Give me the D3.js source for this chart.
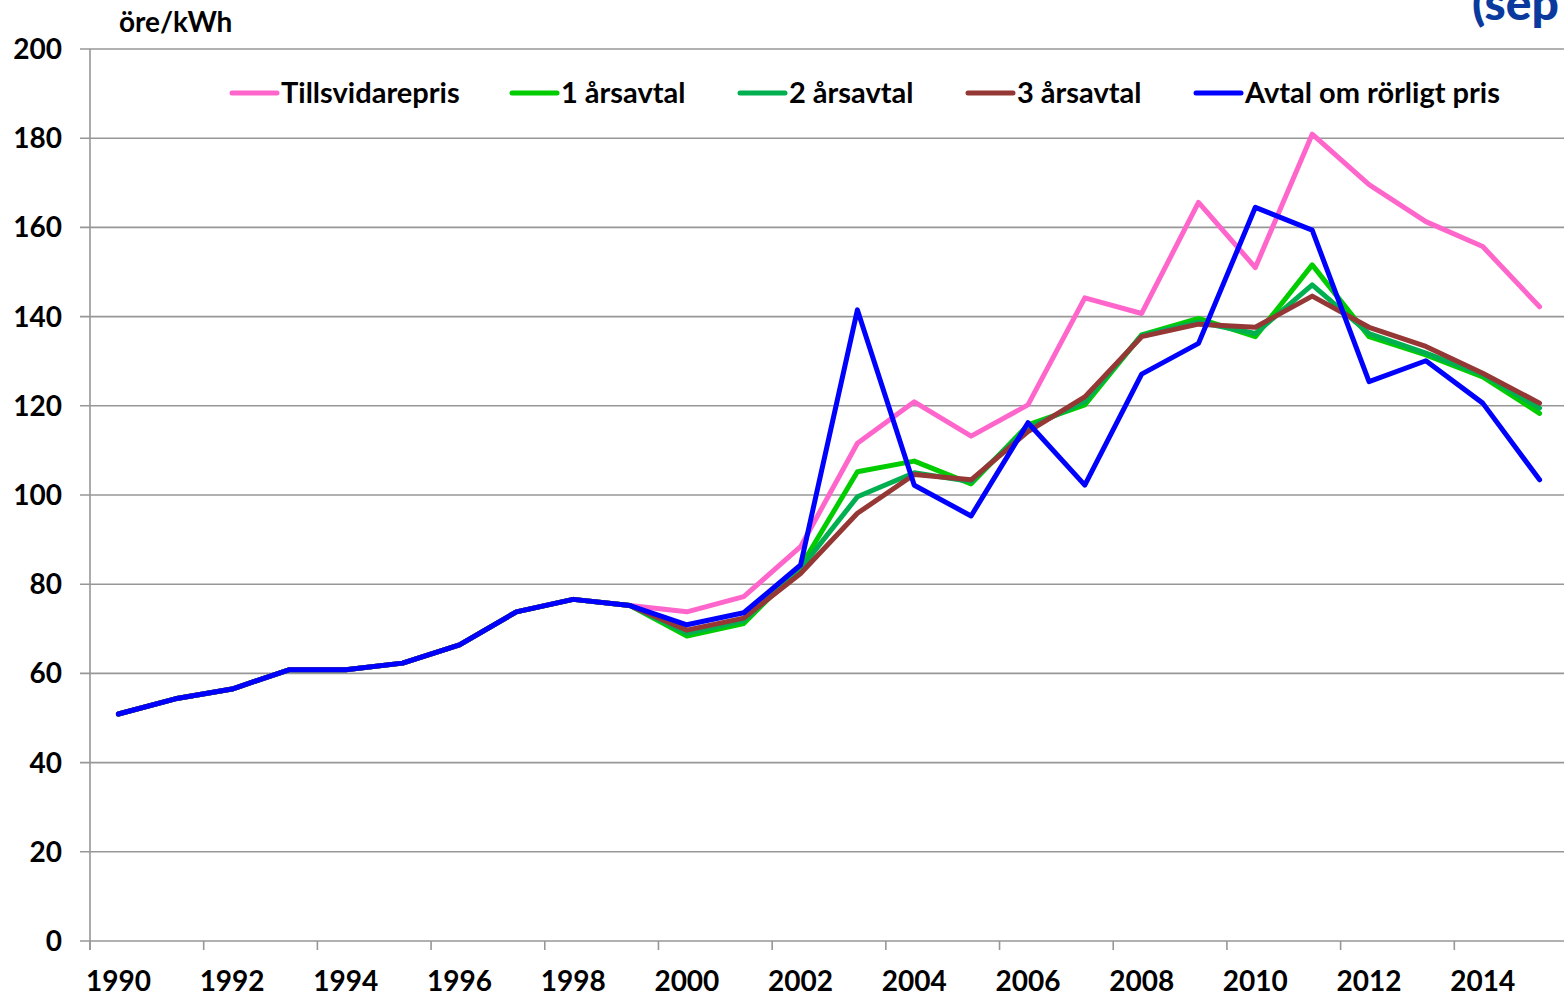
<!DOCTYPE html>
<html><head><meta charset="utf-8">
<script src="https://cdn.jsdelivr.net/npm/d3@7"></script>
<style>body{margin:0;background:#fff}svg{display:block}text{font-family:Lato,"Open Sans",sans-serif;font-weight:bold;fill:#000}</style>
</head><body>
<svg id="c" width="1564" height="996"></svg>
<script>
const years = d3.range(1990, 2016).map(String);
const yTicks = [0,20,40,60,80,100,120,140,160,180,200];
const xLabels = ["1990","1992","1994","1996","1998","2000","2002","2004","2006","2008","2010","2012","2014"];
const seriesNames = ["Tillsvidarepris","1 årsavtal","2 årsavtal","3 årsavtal","Avtal om rörligt pris"];
const base = [50.9,54.3,56.5,60.8,60.8,62.3,66.4,73.8,76.6,75.2];
const tillsvidare = base.concat([73.8,77.2,88.4,111.6,120.9,113.2,120.2,144.2,140.7,165.6,151.0,180.9,169.6,161.3,155.7,142.2]);
const ar1 = base.concat([68.4,71.2,83.9,105.2,107.6,102.5,115.7,120.2,135.9,139.6,135.5,151.6,135.5,131.4,126.5,118.3]);
const ar2 = base.concat([69.0,71.8,83.5,99.6,105.0,103.0,115.0,120.9,135.8,138.8,136.2,147.1,136.2,131.8,127.0,119.5]);
const ar3 = base.concat([69.7,72.4,82.4,95.9,104.6,103.4,114.2,122.0,135.5,138.3,137.6,144.6,137.6,133.3,127.3,120.6]);
const rorligt = base.concat([70.9,73.6,84.3,141.5,102.2,95.3,116.2,102.2,127.1,134.0,164.5,159.4,125.4,130.1,120.6,103.4]);
const seriesValues = [tillsvidare, ar1, ar2, ar3, rorligt];
const colors = ["#FF66CC","#00CC00","#00B050","#953735","#0000FF"];

const svg = d3.select("#c");
const L = 90, R = 1568, T = 49, B = 941;
const x = d3.scaleBand().domain(years).range([L, R]).padding(0);
const y = d3.scaleLinear().domain([0,200]).range([B, T]);

// gridlines
svg.append("g").selectAll("line").data(yTicks).join("line")
  .attr("x1", L-10).attr("x2", 1564)
  .attr("y1", d=>y(d)).attr("y2", d=>y(d))
  .attr("stroke", "#979797").attr("stroke-width", 1.6);
// y axis line
svg.append("line").attr("x1", L).attr("x2", L).attr("y1", T).attr("y2", B+9)
  .attr("stroke", "#979797").attr("stroke-width", 1.6);
// x ticks at boundaries every 2 years
const tickYears = years.filter((d,i)=>i%2===0);
svg.append("g").selectAll("line").data(tickYears).join("line")
  .attr("x1", d=>x(d)).attr("x2", d=>x(d)).attr("y1", B).attr("y2", B+9)
  .attr("stroke", "#979797").attr("stroke-width", 1.6);
// y labels
svg.append("g").selectAll("text").data(yTicks).join("text")
  .attr("x", 62).attr("y", d=>y(d)).attr("dy", "0.36em")
  .attr("text-anchor", "end").attr("font-size", 28).text(d=>d);
// x labels
svg.append("g").selectAll("text").data(xLabels).join("text")
  .attr("x", d=>x(d)+x.bandwidth()/2).attr("y", 991)
  .attr("text-anchor", "middle").attr("font-size", 28).text(d=>d);
// unit
svg.append("text").attr("x", 119).attr("y", 32).attr("font-size", 28).text("öre/kWh");
// top-right text (cropped by the picture edge, as in the reference)
svg.append("text").attr("x", 1472).attr("y", 20).attr("font-size", 48)
  .style("font-weight", 900).style("fill", "#0b3a9e").text("(sep");

// lines
const line = d3.line().x((d,i)=>x(years[i])+x.bandwidth()/2).y(d=>y(d));
svg.append("g").selectAll("path").data(seriesValues).join("path")
  .attr("d", d=>line(d)).attr("fill", "none")
  .attr("stroke", (d,i)=>colors[i]).attr("stroke-width", 5)
  .attr("stroke-linejoin", "round").attr("stroke-linecap", "round");

// legend
const legX = [232, 512, 740, 968, 1196];
const lg = svg.append("g").selectAll("g").data(seriesNames).join("g")
  .attr("transform", (d,i)=>`translate(${legX[i]},93)`);
lg.append("line").attr("x1", 0).attr("x2", 45).attr("y1", 0).attr("y2", 0)
  .attr("stroke", (d,i)=>colors[i]).attr("stroke-width", 5).attr("stroke-linecap", "round");
lg.append("text").attr("x", 49).attr("y", 0).attr("dy", "0.36em").attr("font-size", 29).text(d=>d);
</script>
</body></html>
